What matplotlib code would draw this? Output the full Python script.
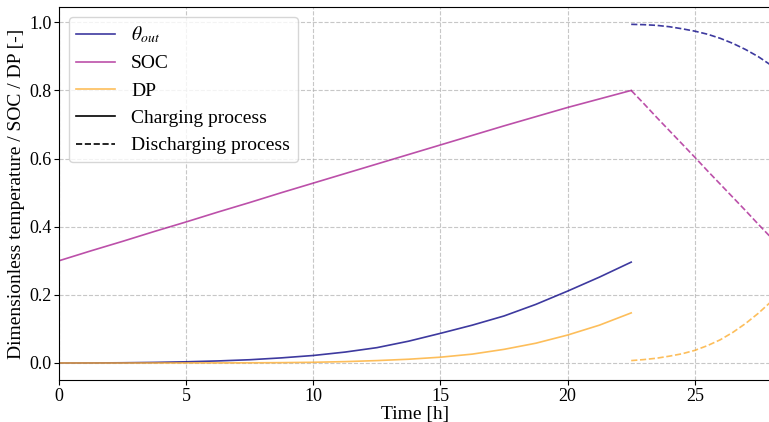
import matplotlib
matplotlib.use("Agg")
import matplotlib.pyplot as plt
from matplotlib.lines import Line2D

plt.rcParams['font.family'] = ['Liberation Serif', 'DejaVu Serif']
plt.rcParams['mathtext.fontset'] = 'stix'

# Charging process
t_ch = [0, 1.25, 2.5, 3.75, 5, 6.25, 7.5, 8.75, 10, 11.25, 12.5, 13.75,
        15, 16.25, 17.5, 18.75, 20, 21.25, 22.5]
theta_ch = [0.0, 0.0001, 0.0006, 0.0017, 0.0035, 0.006, 0.0095, 0.015, 0.022,
            0.032, 0.045, 0.064, 0.087, 0.111, 0.138, 0.172, 0.211, 0.252, 0.296]
soc_ch = [0.300, 0.329, 0.357, 0.386, 0.414, 0.443, 0.471, 0.500, 0.528,
          0.556, 0.584, 0.612, 0.640, 0.668, 0.696, 0.723, 0.750, 0.775, 0.800]
dp_ch = [0.0, 0.0, 0.0, 0.0001, 0.0002, 0.0003, 0.0005, 0.001, 0.002,
         0.004, 0.007, 0.011, 0.017, 0.026, 0.040, 0.058, 0.082, 0.111, 0.147]

# Discharging process
t_dis = [22.5, 23.0, 23.5, 24.0, 24.5, 25.0, 25.5, 26.0, 26.5, 27.0, 27.5, 28.0]
theta_dis = [0.994, 0.993, 0.991, 0.987, 0.981, 0.974, 0.965, 0.953, 0.938,
             0.920, 0.899, 0.874]
soc_dis = [0.800, 0.761, 0.721, 0.682, 0.643, 0.604, 0.564, 0.525, 0.486,
           0.447, 0.407, 0.368]
dp_dis = [0.007, 0.010, 0.014, 0.020, 0.027, 0.037, 0.051, 0.068, 0.090,
          0.116, 0.146, 0.180]

labels = [r'$\theta_{out}$', 'SOC', 'DP']
cmap = matplotlib.colormaps['plasma']
colors = [cmap(0.0), cmap(0.38), cmap(0.82)]
alpha = 0.8
lw = 1.2

fig = plt.figure(figsize=(7.69, 4.22), dpi=100)
ax = fig.add_axes([0.0767, 0.0995, 0.926, 0.884])

for ych, ydis, c in zip([theta_ch, soc_ch, dp_ch], [theta_dis, soc_dis, dp_dis], colors):
    ax.plot(t_ch, ych, color=c, alpha=alpha, lw=lw, ls='-')
    ax.plot(t_dis, ydis, color=c, alpha=alpha, lw=lw, ls='--')

ax.set_xlim(0, 28)
ax.set_ylim(-0.05, 1.045)
ax.set_xticks([0, 5, 10, 15, 20, 25])
ax.set_yticks([0.0, 0.2, 0.4, 0.6, 0.8, 1.0])
ax.grid(True, ls='--', color='#b0b0b0', alpha=0.7, lw=0.8)
ax.tick_params(labelsize=13, pad=2)
ax.set_xlabel('Time [h]', fontsize=14, labelpad=1)
ax.set_ylabel('Dimensionless temperature / SOC / DP [-]', fontsize=14, labelpad=3)

handles = [Line2D([], [], color=c, alpha=alpha, lw=lw) for c in colors]
handles += [Line2D([], [], color='black', lw=lw, ls='-'),
            Line2D([], [], color='black', lw=lw, ls='--')]
leg_labels = labels + ['Charging process', 'Discharging process']
ax.legend(handles, leg_labels, loc='upper left', fontsize=14, framealpha=0.8)

fig.savefig('out.png', dpi=100)
